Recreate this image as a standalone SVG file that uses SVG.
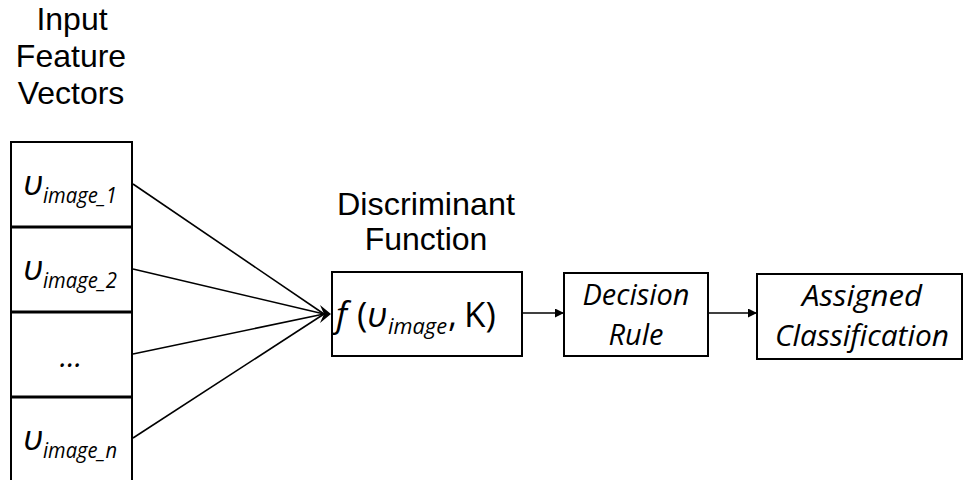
<svg xmlns="http://www.w3.org/2000/svg" width="963" height="480" viewBox="0 0 963 480">
  <style>
    .box { fill: #ffffff; stroke: #000000; stroke-width: 2; }
    .head { font-family: "Liberation Sans", Arial, sans-serif; font-size: 32px; fill: #000000; text-anchor: middle; }
    .it { font-family: "Open Sans", "Noto Sans", sans-serif; font-style: italic; fill: #000000; }
    .up { font-family: "Open Sans", "Noto Sans", sans-serif; fill: #000000; }
    .sym { font-size: 35px; }
    .sub { font-size: 22px; }
    .lbl { font-size: 30px; text-anchor: middle; }
    .wire { stroke: #000000; stroke-width: 1.6; fill: none; }
  </style>
  <defs>
    <marker id="tip" viewBox="0 0 10 10" refX="10" refY="5" markerWidth="9" markerHeight="9" markerUnits="userSpaceOnUse" orient="auto">
      <path d="M0,0 L10,5 L0,10 z" fill="#000000"/>
    </marker>
  </defs>

  <rect width="963" height="480" fill="#ffffff"/>

  <!-- column heading -->
  <g id="input-title">
    <text class="head" x="72" y="30">Input</text>
    <text class="head" x="71" y="67">Feature</text>
    <text class="head" x="71" y="104">Vectors</text>
  </g>

  <!-- stacked feature vector cells -->
  <g id="vector-1">
    <rect class="box" x="11" y="142" width="121" height="85"/>
    <text class="it"><tspan class="sym" x="23" y="195">υ</tspan><tspan class="sub" x="43" y="203" textLength="74" lengthAdjust="spacingAndGlyphs">image_1</tspan></text>
  </g>
  <g id="vector-2">
    <rect class="box" x="11" y="227" width="121" height="85"/>
    <text class="it"><tspan class="sym" x="23" y="280">υ</tspan><tspan class="sub" x="43" y="288" textLength="74" lengthAdjust="spacingAndGlyphs">image_2</tspan></text>
  </g>
  <g id="vector-dots">
    <rect class="box" x="11" y="312" width="121" height="85"/>
    <text class="it lbl" x="71" y="367">...</text>
  </g>
  <g id="vector-n">
    <rect class="box" x="11" y="397" width="121" height="90"/>
    <text class="it"><tspan class="sym" x="23" y="450">υ</tspan><tspan class="sub" x="43" y="458" textLength="74" lengthAdjust="spacingAndGlyphs">image_n</tspan></text>
  </g>
  <!-- heavier seams between cells -->
  <g id="seams" stroke="#000000" stroke-width="3">
    <line x1="10" y1="227" x2="133" y2="227"/>
    <line x1="10" y1="312" x2="133" y2="312"/>
    <line x1="10" y1="397" x2="133" y2="397"/>
  </g>

  <!-- discriminant function -->
  <g id="discriminant">
    <text class="head" x="426" y="215" textLength="178" lengthAdjust="spacingAndGlyphs">Discriminant</text>
    <text class="head" x="426" y="250">Function</text>
    <rect class="box" x="332" y="272" width="190" height="84"/>
    <text><tspan class="it sym" x="336" y="327">f</tspan><tspan class="up sym" x="357" y="327">(</tspan><tspan class="it sym" x="367" y="327">υ</tspan><tspan class="it sub" x="388" y="334" textLength="59" lengthAdjust="spacingAndGlyphs">image</tspan><tspan class="up sym" x="448" y="327">,</tspan><tspan class="up sym" x="464" y="327">K)</tspan></text>
  </g>

  <!-- decision rule -->
  <g id="decision">
    <rect class="box" x="564" y="273" width="144" height="83"/>
    <text class="it lbl" x="636" y="305" textLength="107" lengthAdjust="spacingAndGlyphs">Decision</text>
    <text class="it lbl" x="636" y="345" textLength="55" lengthAdjust="spacingAndGlyphs">Rule</text>
  </g>

  <!-- output class -->
  <g id="assigned">
    <rect class="box" x="757" y="274" width="205" height="85"/>
    <text class="it lbl" x="862" y="306" textLength="120" lengthAdjust="spacingAndGlyphs">Assigned</text>
    <text class="it lbl" x="862" y="346" textLength="174" lengthAdjust="spacingAndGlyphs">Classification</text>
  </g>

  <!-- connectors -->
  <g id="connectors">
    <line class="wire" x1="133" y1="184" x2="324" y2="314"/>
    <line class="wire" x1="133" y1="269" x2="324" y2="314"/>
    <line class="wire" x1="133" y1="354" x2="324" y2="314"/>
    <line class="wire" x1="133" y1="438" x2="324" y2="314"/>
    <path d="M320,305 L331,314 L320,323 L324,314 z" fill="#000000"/>
    <line class="wire" x1="522" y1="313" x2="564" y2="313" marker-end="url(#tip)"/>
    <line class="wire" x1="708" y1="313" x2="757" y2="313" marker-end="url(#tip)"/>
  </g>
</svg>
